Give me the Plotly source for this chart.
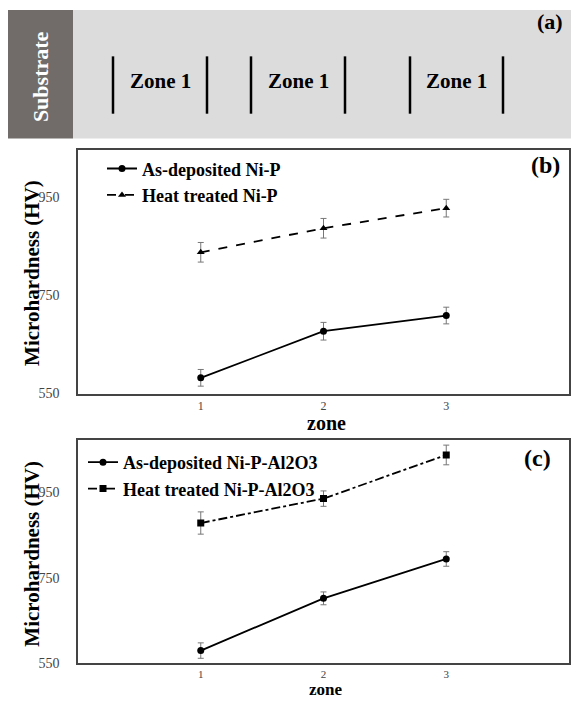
import plotly.graph_objects as go

W, H = 571, 708

zones = [1, 2, 3]
tick_vals = [550, 750, 950]

b_asdep = [582, 677, 709]
b_asdep_err = [17, 18, 17]
b_heat = [838, 887, 928]
b_heat_err = [20, 20, 18]

c_asdep = [580, 702, 794]
c_asdep_err = [18, 15, 17]
c_heat = [878, 935, 1037]
c_heat_err = [26, 18, 23]

b_names = ["As-deposited Ni-P", "Heat treated Ni-P"]
c_names = ["As-deposited Ni-P-Al2O3", "Heat treated Ni-P-Al2O3"]
zone_labels = ["Zone 1", "Zone 1", "Zone 1"]

SERIF = "Liberation Serif, Times New Roman, serif"


def px(x):
    return x / W


def py(y):
    return 1 - y / H


fig = go.Figure()

err_style = dict(type="data", color="#777", thickness=1, width=3)

fig.add_trace(go.Scatter(x=zones, y=b_asdep, name=b_names[0], mode="lines+markers",
                         line=dict(color="black", width=1.8), marker=dict(symbol="circle", size=7, color="black"),
                         error_y=dict(array=b_asdep_err, **err_style), xaxis="x", yaxis="y", legend="legend"))
fig.add_trace(go.Scatter(x=zones, y=b_heat, name=b_names[1], mode="lines+markers",
                         line=dict(color="black", width=1.8, dash="dash"), marker=dict(symbol="triangle-up", size=7, color="black"),
                         error_y=dict(array=b_heat_err, **err_style), xaxis="x", yaxis="y", legend="legend"))
fig.add_trace(go.Scatter(x=zones, y=c_asdep, name=c_names[0], mode="lines+markers",
                         line=dict(color="black", width=1.8), marker=dict(symbol="circle", size=7, color="black"),
                         error_y=dict(array=c_asdep_err, **err_style), xaxis="x2", yaxis="y2", legend="legend2"))
fig.add_trace(go.Scatter(x=zones, y=c_heat, name=c_names[1], mode="lines+markers",
                         line=dict(color="black", width=1.8, dash="dashdot"), marker=dict(symbol="square", size=7, color="black"),
                         error_y=dict(array=c_heat_err, **err_style), xaxis="x2", yaxis="y2", legend="legend2"))

axis_common = dict(showline=True, linecolor="#444", linewidth=1.5, mirror=True, showgrid=False,
                   zeroline=False, ticks="")
ytick_font = dict(family=SERIF, size=14, color="#444")
xtick_font = dict(family=SERIF, size=12, color="#444")
xtick_font_c = dict(family=SERIF, size=11, color="#444")

legend_font = dict(family=SERIF, size=18, color="black", weight="bold")

fig.update_layout(
    width=W, height=H,
    margin=dict(l=0, r=0, t=0, b=0),
    paper_bgcolor="white", plot_bgcolor="white",
    xaxis=dict(domain=[px(78), px(569)], range=[0, 4], tickvals=zones, anchor="y",
               tickfont=xtick_font, ticklabelstandoff=0, **axis_common),
    yaxis=dict(domain=[py(398), py(152)], range=[550, 1046], tickvals=tick_vals, anchor="x",
               ticklabelstandoff=14, tickfont=ytick_font, **axis_common),
    xaxis2=dict(domain=[px(78), px(569)], range=[0, 4], tickvals=zones, anchor="y2",
                tickfont=xtick_font_c, ticklabelstandoff=0, **axis_common),
    yaxis2=dict(domain=[py(671), py(445)], range=[550, 1072], tickvals=tick_vals, anchor="x2",
                ticklabelstandoff=14, tickfont=ytick_font, **axis_common),
    legend=dict(x=px(102), y=py(152), xanchor="left", yanchor="top", bgcolor="rgba(0,0,0,0)",
                font=legend_font, itemwidth=30, tracegroupgap=0),
    legend2=dict(x=px(83), y=py(449), xanchor="left", yanchor="top", bgcolor="rgba(0,0,0,0)",
                 font=legend_font, itemwidth=30, tracegroupgap=0),
    showlegend=True,
)

shapes = [
    dict(type="rect", xref="paper", yref="paper", x0=px(73), x1=px(571), y0=py(140), y1=py(10),
         fillcolor="#dcdcdc", line=dict(width=0), layer="below"),
    dict(type="rect", xref="paper", yref="paper", x0=px(8), x1=px(73), y0=py(140), y1=py(10),
         fillcolor="#716c69", line=dict(width=0), layer="below"),
]
zone_pairs = [(113, 207), (251, 345), (410, 503)]
for a, b in zone_pairs:
    for xx in (a, b):
        shapes.append(dict(type="line", xref="paper", yref="paper", x0=px(xx), x1=px(xx),
                           y0=py(115), y1=py(57), line=dict(color="black", width=2.5)))
fig.update_layout(shapes=shapes)

ann = [
    dict(text="Substrate", x=px(40), y=py(78), textangle=-90,
         font=dict(family=SERIF, size=22, color="white", weight="bold")),
    dict(text="(a)", x=px(550), y=py(22), font=dict(family=SERIF, size=22, color="black", weight="bold")),
    dict(text="(b)", x=px(545), y=py(167), font=dict(family=SERIF, size=24, color="black", weight="bold")),
    dict(text="(c)", x=px(537), y=py(463), font=dict(family=SERIF, size=24, color="black", weight="bold")),
    dict(text="Microhardness (HV)", x=px(32), y=py(276), textangle=-90,
         font=dict(family=SERIF, size=21, color="black", weight="bold")),
    dict(text="Microhardness (HV)", x=px(32), y=py(560), textangle=-90,
         font=dict(family=SERIF, size=21, color="black", weight="bold")),
    dict(text="zone", x=px(326), y=py(428), font=dict(family=SERIF, size=20, color="black", weight="bold")),
    dict(text="zone", x=px(326), y=py(707), yanchor="bottom", height=18, borderpad=0,
         font=dict(family=SERIF, size=17, color="black", weight="bold")),
]
for (a, b), lbl in zip(zone_pairs, zone_labels):
    ann.append(dict(text=lbl, x=px((a + b) / 2), y=py(82),
                    font=dict(family=SERIF, size=21, color="black", weight="bold")))
for d in ann:
    d.setdefault("yanchor", "middle")
    d.update(xref="paper", yref="paper", showarrow=False, xanchor="center")
fig.update_layout(annotations=ann)

fig.write_html("out.html", config={"displayModeBar": False},
               post_script="document.body.style.margin='0px';document.body.style.overflow='hidden';")
